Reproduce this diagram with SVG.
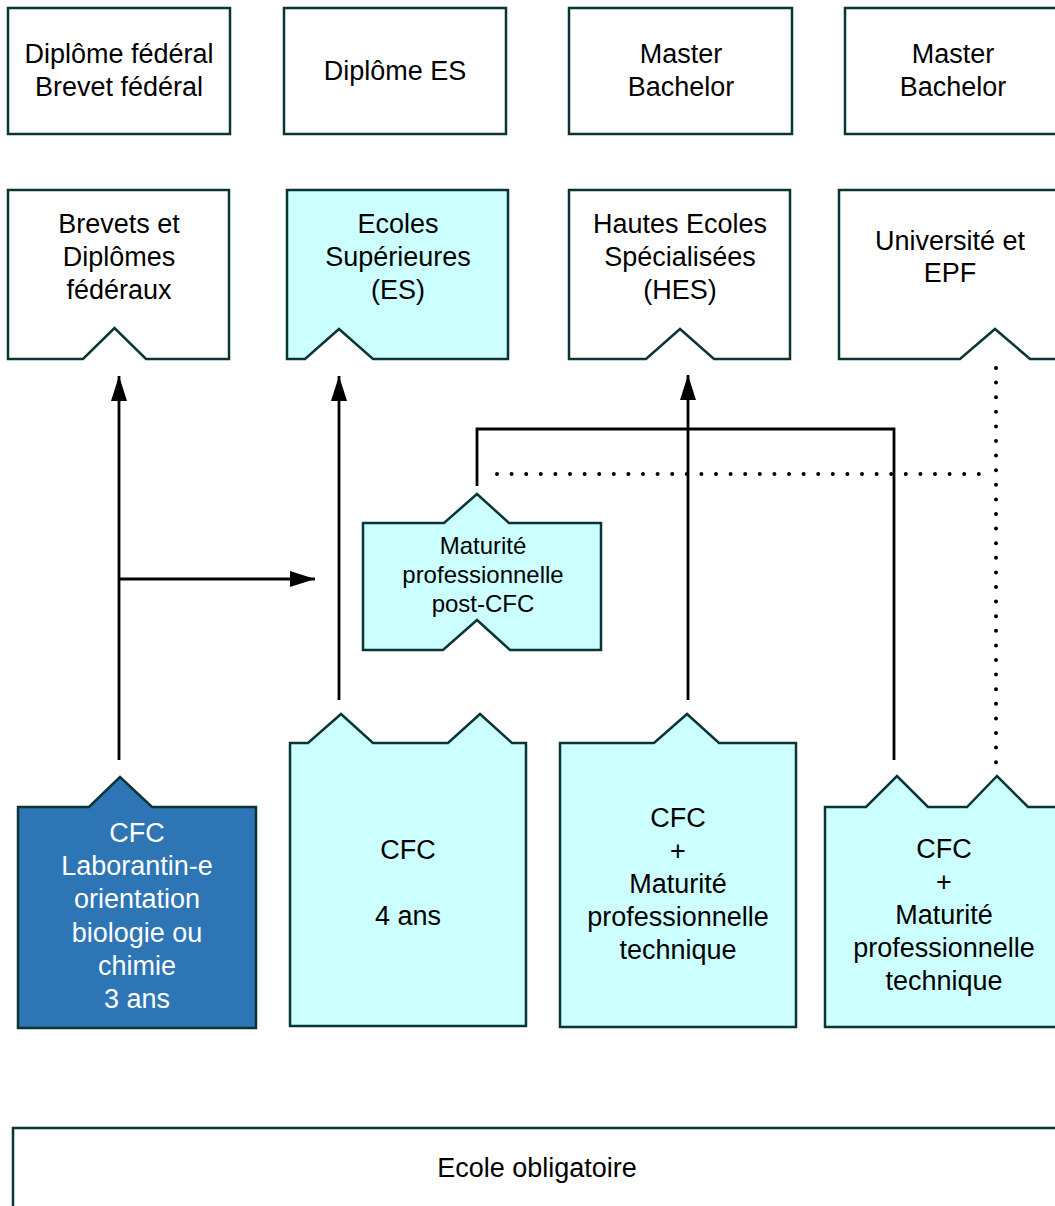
<svg xmlns="http://www.w3.org/2000/svg" width="1055" height="1206" viewBox="0 0 1055 1206">
<defs>
<style>
.box{fill:#ffffff;stroke:#0b3535;stroke-width:2.5;stroke-linejoin:miter}
.cyan{fill:#ccffff}
.blue{fill:#2e75b6}
.t{font-family:"Liberation Sans",Arial,sans-serif;font-size:27px;fill:#000;text-anchor:middle}
.s{font-size:24px}
.w{fill:#ffffff}
.ln{fill:none;stroke:#000;stroke-width:2.8}
.dot{fill:none;stroke:#000;stroke-width:4;stroke-linecap:round;stroke-dasharray:0 14.6}
</style>
<marker id="ah" markerWidth="25" markerHeight="16" refX="25" refY="8" orient="auto" markerUnits="userSpaceOnUse">
<path d="M0,0 L25,8 L0,16 Z" fill="#000"/>
</marker>
</defs>
<rect width="1055" height="1206" fill="#ffffff"/>

<g id="connectors">
<path class="ln" d="M119,760 V376" marker-end="url(#ah)"/>
<path class="ln" d="M119,579 H315" marker-end="url(#ah)"/>
<path class="ln" d="M339,700 V376" marker-end="url(#ah)"/>
<path class="ln" d="M688,700 V375" marker-end="url(#ah)"/>
<path class="ln" d="M477,486 V429 H894 V760"/>
<path class="dot" d="M497,474 H985"/>
<path class="dot" d="M996,368 V766"/>
</g>

<g id="top1"><rect class="box" x="8" y="8" width="222" height="126"/>
<text class="t" x="119" y="63">Diplôme fédéral</text><text class="t" x="119" y="96">Brevet fédéral</text></g>
<g id="top2"><rect class="box" x="284" y="8" width="222" height="126"/>
<text class="t" x="395" y="80">Diplôme ES</text></g>
<g id="top3"><rect class="box" x="569" y="8" width="223" height="126"/>
<text class="t" x="681" y="63">Master</text><text class="t" x="681" y="96">Bachelor</text></g>
<g id="top4"><rect class="box" x="845" y="8" width="222" height="126"/>
<text class="t" x="953" y="63">Master</text><text class="t" x="953" y="96">Bachelor</text></g>

<g id="brevets"><path class="box" d="M8,190 H229 V359 H146 L114.5,328 L83,359 H8 Z"/>
<text class="t" x="119" y="233">Brevets et</text><text class="t" x="119" y="266">Diplômes</text><text class="t" x="119" y="299">fédéraux</text></g>
<g id="es"><path class="box cyan" d="M287,190 H508 V359 H373 L339,329 L305,359 H287 Z"/>
<text class="t" x="398" y="233">Ecoles</text><text class="t" x="398" y="266">Supérieures</text><text class="t" x="398" y="299">(ES)</text></g>
<g id="hes"><path class="box" d="M569,190 H790 V359 H714 L680,329 L646,359 H569 Z"/>
<text class="t" x="680" y="233">Hautes Ecoles</text><text class="t" x="680" y="266">Spécialisées</text><text class="t" x="680" y="299">(HES)</text></g>
<g id="uni"><path class="box" d="M839,190 H1062 V359 H1030 L995,329 L960,359 H839 Z"/>
<text class="t" x="950" y="250">Université et</text><text class="t" x="950" y="282">EPF</text></g>

<g id="maturite"><path class="box cyan" d="M363,523 H444 L477,494 L509,523 H601 V650 H510 L477,620 L443,650 H363 Z"/>
<text class="t s" x="483" y="554">Maturité</text><text class="t s" x="483" y="583">professionnelle</text><text class="t s" x="483" y="612">post-CFC</text></g>

<g id="cfc-labo"><path class="box blue" d="M18,807 H89 L120,777 L152,807 H256 V1028 H18 Z"/>
<text class="t w" x="137" y="842">CFC</text><text class="t w" x="137" y="875">Laborantin-e</text><text class="t w" x="137" y="908">orientation</text><text class="t w" x="137" y="942">biologie ou</text><text class="t w" x="137" y="975">chimie</text><text class="t w" x="137" y="1008">3 ans</text></g>
<g id="cfc4"><path class="box cyan" d="M290,743 H308 L341,714 L373,743 H448 L480,714 L512,743 H526 V1026 H290 Z"/>
<text class="t" x="408" y="859">CFC</text><text class="t" x="408" y="925">4 ans</text></g>
<g id="cfc-mpt1"><path class="box cyan" d="M560,743 H654 L687,714 L719,743 H796 V1027 H560 Z"/>
<text class="t" x="678" y="827">CFC</text><text class="t" x="678" y="860">+</text><text class="t" x="678" y="893">Maturité</text><text class="t" x="678" y="926">professionnelle</text><text class="t" x="678" y="959">technique</text></g>
<g id="cfc-mpt2"><path class="box cyan" d="M825,807 H866 L897,776 L928,807 H967 L997,776 L1028,807 H1063 V1027 H825 Z"/>
<text class="t" x="944" y="858">CFC</text><text class="t" x="944" y="891">+</text><text class="t" x="944" y="924">Maturité</text><text class="t" x="944" y="957">professionnelle</text><text class="t" x="944" y="990">technique</text></g>

<g id="ecole"><rect class="box" x="13" y="1128" width="1060" height="100"/>
<text class="t" x="537" y="1177">Ecole obligatoire</text></g>
</svg>
